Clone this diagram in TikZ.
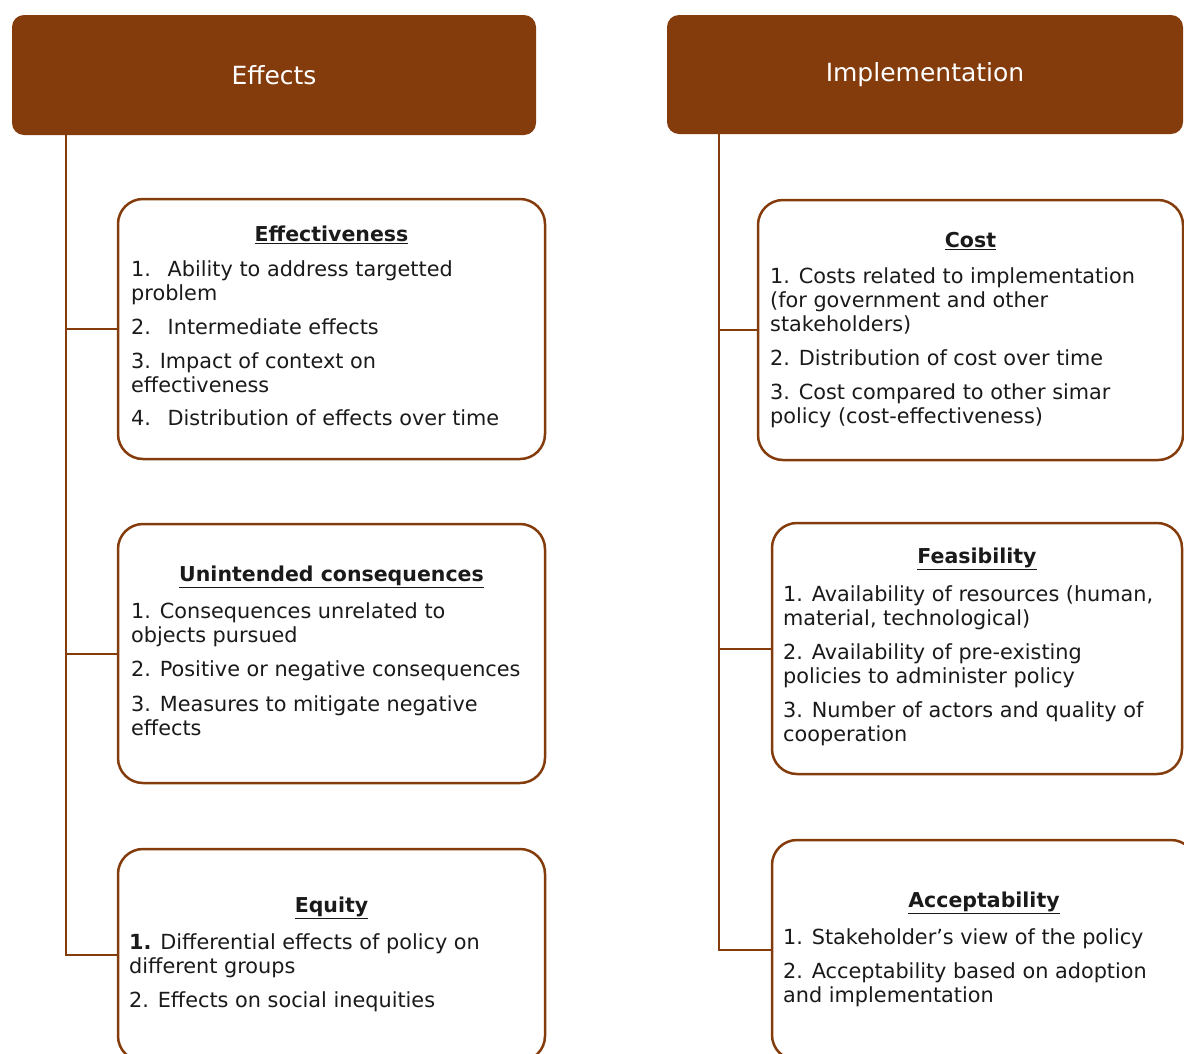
\documentclass[tikz,border=0pt]{standalone}
\usepackage{fontspec}
\setmainfont{DejaVu Sans}
\definecolor{brn}{HTML}{843C0C}
\definecolor{ink}{HTML}{1A1A1A}
\begin{document}
\begin{tikzpicture}[x=1pt,y=-1pt,
 hdr/.style={fill=brn, draw=none, rounded corners=12pt, text=white, font=\fontsize{25}{29}\selectfont, inner sep=0pt},
 card/.style={draw=brn, line width=2.5pt, rounded corners=25pt, fill=white, inner sep=0pt},
 conn/.style={draw=brn, line width=2pt},
 ttl/.style={font=\fontsize{20.5}{24}\selectfont\bfseries, inner sep=0pt, text=ink},
 body/.style={font=\fontsize{20.8}{24}\selectfont, align=left, inner sep=0pt, anchor=north west, text=ink}
]
\useasboundingbox (0,0) rectangle (1184,1053);
\clip (0,0) rectangle (1184,1053);
\fill[white] (0,0) rectangle (1184,1053);

% headers
\node[hdr, minimum width=524pt, minimum height=120pt] (hE) at (274,75) {Effects};
\node[hdr, minimum width=516pt, minimum height=119pt] (hI) at (925,74.5) {Implementation};

\coordinate (spE) at (66,0);
\coordinate (spI) at (719,0);

% left cards
\node[card, minimum width=427pt, minimum height=260pt] (eff) at (331.5,329) {};
\node[card, minimum width=427pt, minimum height=259pt] (unc) at (331.5,653.5) {};
\node[card, minimum width=427pt, minimum height=212pt] (equ) at (331.5,955) {};

% right cards
\node[card, minimum width=425pt, minimum height=260pt] (cst) at (970.5,330) {};
\node[card, minimum width=410pt, minimum height=251pt] (fea) at (977,648.5) {};
\node[card, minimum width=424pt, minimum height=220pt] (acc) at (984,950) {};

% connectors
\draw[conn] (hE.south -| spE) |- (eff.west);
\draw[conn] (hE.south -| spE) |- (unc.west);
\draw[conn] (hE.south -| spE) |- (equ.west);
\draw[conn] (hI.south -| spI) |- (cst.west);
\draw[conn] (hI.south -| spI) |- (fea.west);
\draw[conn] (hI.south -| spI) |- (acc.west);

% titles
\node[ttl] (effT) at (331.5,235) {\underline{Effectiveness}};
\node[ttl] (uncT) at (331.5,577) {\underline{Unintended consequences}};
\node[ttl] (equT) at (331.5,908) {\underline{Equity}};
\node[ttl] (cstT) at (970.5,241) {\underline{Cost}};
\node[ttl] (feaT) at (977,559) {\underline{Feasibility}};
\node[ttl] (accT) at (984,903) {\underline{Acceptability}};

% bodies
\node[body] (effL) at (131,260) {1.\hspace{0.8em}Ability to address targetted\\problem\\[10pt]
2.\hspace{0.8em}Intermediate effects\\[10pt]
3. Impact of context on\\effectiveness\\[9pt]
4.\hspace{0.8em}Distribution of effects over time};
\node[body] (uncL) at (131,602) {1. Consequences unrelated to\\objects pursued\\[10pt]
2. Positive or negative consequences\\[11pt]
3. Measures to mitigate negative\\effects};
\node[body] (equL) at (129,933) {\textbf{1.} Differential effects of policy on\\different groups\\[10pt]
2. Effects on social inequities};
\node[body] (cstL) at (770,267) {1. Costs related to implementation\\(for government and other\\stakeholders)\\[10pt]
2. Distribution of cost over time\\[10pt]
3. Cost compared to other simar\\policy (cost-effectiveness)};
\node[body] (feaL) at (783,585) {1. Availability of resources (human,\\material, technological)\\[10pt]
2. Availability of pre-existing\\policies to administer policy\\[10pt]
3. Number of actors and quality of\\cooperation};
\node[body] (accL) at (783,928) {1. Stakeholder's view of the policy\\[10pt]
2. Acceptability based on adoption\\and implementation};
\end{tikzpicture}
\end{document}
